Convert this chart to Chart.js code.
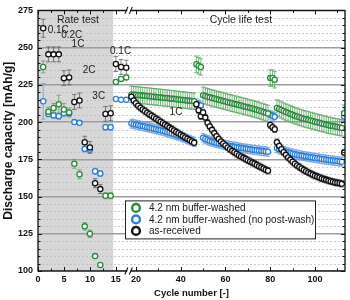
<!DOCTYPE html>
<html><head><meta charset="utf-8">
<script src="https://cdn.jsdelivr.net/npm/chart.js@4.4.1/dist/chart.umd.min.js"></script>
<style>html,body{margin:0;padding:0;background:#fff}</style>
</head><body>
<canvas id="c" width="350" height="300" style="width:350px;height:300px;display:block"></canvas>
<script>
// ---------- DATA ----------
const rateCycles = [1,2,3,4,5,6,7,8,9,10,11,12,13,14,15,16,17];
const lifeCycles = [];
for (let c = 18; c <= 113; c++) lifeCycles.push(c);

const greenRate = [237,207,209.5,212,208.5,206.5,172,165,130,125,110,104,150.5,150.5,227,229,230];
const blueRate  = [214,205.5,204.5,204,206,206,200,199.5,182,181.5,167,165.5,196.5,196.5,215.5,215,215];
const blackRate = [263,245.5,245.5,245.5,229.5,230,213.5,214.5,186.5,183,159,155,205.5,206,239,237,236.5];
const greenRateErr = [4,3,3,6,4,3,3,3,2.5,2.5,1,1,2,2,1.5,1.5,1.5];
const blueRateErr  = [12,2,2,2,2,2,1.5,1.5,2,2,2,2,2,2,1,1,1];
const blackRateErr = [6,5,5,5,5,5,5,5,4,4,3,3,5,5,5,5,5];

const greenLife = [
  218.6,218.4,218.3,218.1,218.0,217.8,217.7,217.5,217.4,217.2,217.0,216.9,216.7,216.6,216.4,216.2,216.1,215.9,215.7,215.6,215.4,215.2,215.0,214.9,214.7,214.5,214.3,214.2,214.0,
  238.8,237.8,237.0,
  218.0,217.5,217.0,216.6,216.2,215.8,215.4,215.0,214.6,214.2,213.8,213.4,213.0,212.6,212.2,211.9,211.5,211.1,210.7,210.3,209.9,209.5,209.1,208.7,208.3,207.8,207.3,206.8,206.3,205.8,
  229.6,229.6,228.4,
  209.5,208.8,208.1,207.4,206.7,206.1,205.5,204.9,204.3,203.8,203.3,202.8,202.3,201.9,201.5,201.1,200.7,200.3,199.9,199.5,199.1,198.7,198.3,197.9,197.6,197.3,197.0,196.7,196.4,196.1,
  206.0
];
const blueLife = [
  199.0,198.6,198.3,198.0,197.6,197.3,197.0,196.6,196.3,195.9,195.6,195.2,194.8,194.5,194.1,193.7,193.2,192.8,192.3,191.8,191.3,190.8,190.3,189.7,189.2,188.6,188.0,187.4,186.8,
  212.5,211.8,211.2,
  189.5,188.7,188.0,187.4,186.9,186.4,186.0,185.6,185.3,185.0,184.6,184.3,184.0,183.7,183.5,183.2,182.9,182.7,182.4,182.2,181.9,181.7,181.5,181.3,181.1,180.9,180.7,180.5,180.3,180.1,
  205.0,204.2,203.5,
  182.5,181.8,181.2,180.6,180.1,179.6,179.2,178.8,178.4,178.1,177.8,177.5,177.2,176.9,176.7,176.4,176.2,175.9,175.7,175.5,175.2,175.0,174.8,174.6,174.4,174.2,174.0,173.8,173.6,173.4,
  203.7
];
const blackLife = [
  217.0,214.5,212.6,211.0,209.7,208.5,207.4,206.3,205.3,204.3,203.3,202.3,201.3,200.3,199.3,198.3,197.3,196.3,195.3,194.4,193.4,192.5,191.5,190.6,189.7,188.8,187.9,187.0,186.1,
  212.0,208.0,204.0,
  206.5,203.0,199.5,197.0,194.8,192.6,190.5,188.6,187.0,185.6,184.3,183.0,181.8,180.7,179.7,178.7,177.8,176.9,176.0,175.2,174.4,173.6,172.8,172.0,171.2,170.4,169.6,168.8,168.0,167.3,
  198.0,196.5,195.2,
  186.5,184.0,181.8,179.8,178.0,176.3,174.8,173.4,172.1,170.9,169.8,168.8,167.9,167.0,166.2,165.4,164.7,164.0,163.4,162.8,162.2,161.7,161.2,160.7,160.3,159.9,159.5,159.2,158.9,158.6,
  179.5
];
const greenLifeErr = 5.5;
const blueLifeErr = 3;
const blackLifeErr = 2.2;

const seriesLabels = ['4.2 nm buffer-washed', '4.2 nm buffer-washed (no post-wash)', 'as-received'];
const xTickValues = [0,5,10,15,20,40,60,80,100];
const rateZone = [0, 14.5];

// ---------- BROKEN X SCALE ----------
const BRK = { leftMax: 17.7, rightMin: 17.3, frac: 0.2993 };
class BrokenScale extends Chart.LinearScale {
  _frac(v) {
    if (v <= BRK.leftMax) return (v - this.min) / (BRK.leftMax - this.min) * BRK.frac;
    return BRK.frac + (v - BRK.rightMin) / (this.max - BRK.rightMin) * (1 - BRK.frac);
  }
  buildTicks() { return xTickValues.map(v => ({ value: v })); }
  getPixelForValue(v) { return this.getPixelForDecimal(this._frac(v)); }
  getValueForPixel(p) {
    const d = this.getDecimalForPixel(p);
    if (d <= BRK.frac) return this.min + d / BRK.frac * (BRK.leftMax - this.min);
    return BRK.rightMin + (d - BRK.frac) / (1 - BRK.frac) * (this.max - BRK.rightMin);
  }
}
BrokenScale.id = 'broken';
BrokenScale.defaults = Chart.LinearScale.defaults;
Chart.register(BrokenScale);

// ---------- DATASETS ----------
function pts(cyc, vals) { return cyc.map((c, i) => ({ x: c, y: vals[i] })); }
function mk(label, color, errColor, rate, life, rErr, lErr, order) {
  return {
    label, order,
    data: pts(rateCycles, rate).concat(pts(lifeCycles, life)),
    errs: rErr.concat(lifeCycles.map(() => lErr)),
    errColor,
    borderColor: color, backgroundColor: '#fff',
    pointBackgroundColor: '#fff', pointBorderColor: color,
    pointRadius: 2.6, pointBorderWidth: 1.3, pointHoverRadius: 2.6,
    showLine: false
  };
}
const datasets = [
  mk(seriesLabels[0], '#2a8a3c', 'rgba(90,170,95,0.9)', greenRate, greenLife, greenRateErr, greenLifeErr, 1),
  mk(seriesLabels[1], '#2c7fd8', 'rgba(110,160,225,0.9)', blueRate, blueLife, blueRateErr, blueLifeErr, 2),
  mk(seriesLabels[2], '#111111', 'rgba(90,90,90,0.85)', blackRate, blackLife, blackRateErr, blackLifeErr, 0)
];

const FONT = 'Liberation Sans, Arial, Helvetica, sans-serif';

const decor = {
  id: 'decor',
  beforeDraw(chart) {
    const { ctx, chartArea: a, scales: { x } } = chart;
    ctx.save();
    ctx.fillStyle = '#d7d7d7';
    const x0 = x.getPixelForValue(rateZone[0]), x1 = x.getPixelForValue(rateZone[1]);
    ctx.fillRect(x0, a.top, x1 - x0, a.bottom - a.top);
    ctx.restore();
  },
  beforeDatasetsDraw(chart) {
    const { ctx, chartArea: a, scales: { x, y } } = chart;
    ctx.save();
    ctx.beginPath(); ctx.rect(a.left, a.top, a.right - a.left, a.bottom - a.top); ctx.clip();
    ctx.strokeStyle = '#bdbdbd'; ctx.lineWidth = 0.8; ctx.setLineDash([2, 2]);
    for (let v = 105; v < 275; v += 5) {
      if (v % 25 === 0) continue;
      const py = Math.round(y.getPixelForValue(v)) + 0.5;
      ctx.beginPath(); ctx.moveTo(a.left, py); ctx.lineTo(a.right, py); ctx.stroke();
    }
    ctx.setLineDash([]);
    const cap = 2.3;
    chart.data.datasets.slice().reverse().forEach(ds => {
      ctx.strokeStyle = ds.errColor; ctx.lineWidth = 0.9;
      ds.data.forEach((p, i) => {
        const e = ds.errs[i]; if (!e) return;
        const px = x.getPixelForValue(p.x), y1 = y.getPixelForValue(p.y - e), y2 = y.getPixelForValue(p.y + e);
        ctx.beginPath();
        ctx.moveTo(px, y1); ctx.lineTo(px, y2);
        ctx.moveTo(px - cap, y1); ctx.lineTo(px + cap, y1);
        ctx.moveTo(px - cap, y2); ctx.lineTo(px + cap, y2);
        ctx.stroke();
      });
    });
    ctx.restore();
  },
  afterDraw(chart) {
    const { ctx, chartArea: a, scales: { x, y } } = chart;
    ctx.save();
    ctx.strokeStyle = '#111'; ctx.lineWidth = 1;
    const xMin = [2.5,7.5,12.5,30,50,70,90,110];
    const tickX = (v, len) => {
      const px = Math.round(x.getPixelForValue(v)) + 0.5;
      ctx.beginPath(); ctx.moveTo(px, a.bottom); ctx.lineTo(px, a.bottom - len);
      ctx.moveTo(px, a.top); ctx.lineTo(px, a.top + len); ctx.stroke();
    };
    xTickValues.forEach(v => tickX(v, 4)); xMin.forEach(v => tickX(v, 2.5));
    for (let v = 100; v <= 275; v += 5) {
      const len = v % 25 === 0 ? 4 : 2.5;
      const py = Math.round(y.getPixelForValue(v)) + 0.5;
      ctx.beginPath(); ctx.moveTo(a.left, py); ctx.lineTo(a.left + len, py);
      ctx.moveTo(a.right, py); ctx.lineTo(a.right - len, py); ctx.stroke();
    }
    ctx.lineWidth = 1.3; ctx.strokeStyle = '#111';
    ctx.strokeRect(a.left, a.top, a.right - a.left, a.bottom - a.top);
    const bx = x.getPixelForValue(17.5);
    [a.top, a.bottom].forEach(by => {
      ctx.fillStyle = '#fff';
      ctx.fillRect(bx - 1.5, by - 1.5, 3, 3);
      ctx.lineWidth = 1.1; ctx.strokeStyle = '#111';
      ctx.beginPath();
      ctx.moveTo(bx - 4, by + 3.5); ctx.lineTo(bx - 1, by - 3.5);
      ctx.moveTo(bx + 0.5, by + 3.5); ctx.lineTo(bx + 3.5, by - 3.5);
      ctx.stroke();
    });
    ctx.fillStyle = '#1a1a1a';
    ctx.font = '10px ' + FONT; ctx.textAlign = 'center'; ctx.textBaseline = 'middle';
    const note = (t, cx, cy) => ctx.fillText(t, x.getPixelForValue(cx), y.getPixelForValue(cy));
    ctx.font = '10.5px ' + FONT;
    note('Rate test', 7.7, 268.4);
    note('Cycle life test', 66.9, 268.4);
    ctx.font = '10px ' + FONT;
    note('0.1C', 3.9, 262);
    note('0.2C', 6.5, 258.1);
    note('1C', 7.7, 252);
    note('2C', 9.85, 234.8);
    note('3C', 11.7, 217.3);
    note('0.1C', 15.9, 247.6);
    note('1C', 37.9, 206.5);
    const lx = a.left + 87, ly = a.top + 190, lw = 190, lh = 38;
    ctx.fillStyle = '#fff'; ctx.fillRect(lx, ly, lw, lh);
    ctx.lineWidth = 1; ctx.strokeStyle = '#222'; ctx.strokeRect(lx + 0.5, ly + 0.5, lw, lh);
    ctx.font = '10px ' + FONT; ctx.textAlign = 'left';
    chart.data.datasets.forEach((ds, i) => {
      const cy = ly + 7.5 + i * 11.5;
      ctx.beginPath(); ctx.arc(lx + 11, cy, 3.9, 0, Math.PI * 2);
      ctx.fillStyle = '#fff'; ctx.fill();
      ctx.lineWidth = 2.4; ctx.strokeStyle = ds.pointBorderColor; ctx.stroke();
      ctx.fillStyle = '#1a1a1a'; ctx.fillText(ds.label, lx + 24, cy + 0.5);
    });
    ctx.restore();
  }
};

new Chart(document.getElementById('c'), {
  type: 'scatter',
  data: { datasets },
  options: {
    responsive: false, animation: false, devicePixelRatio: 1,
    layout: { padding: { top: 5, right: 5, left: 0, bottom: 0 } },
    plugins: { legend: { display: false }, tooltip: { enabled: false } },
    elements: { point: { pointStyle: 'circle' } },
    scales: {
      x: {
        type: 'broken', min: 0, max: 113.4,
        afterFit: s => { s.height = 29; },
        grid: { display: false, drawTicks: false },
        border: { display: false },
        ticks: { padding: 3, autoSkip: false, maxRotation: 0, color: '#111',
          font: { family: FONT, size: 9, weight: 'bold' }, callback: v => String(v) },
        title: { display: true, text: 'Cycle number [-]', color: '#111',
          font: { family: FONT, size: 9.5, weight: 'bold' }, padding: { top: 0, bottom: 1 } }
      },
      y: {
        min: 100, max: 275,
        afterFit: s => { s.width = 38; },
        grid: { color: '#9e9e9e', lineWidth: 1.4, drawTicks: false },
        border: { display: false },
        ticks: { stepSize: 25, padding: 5, color: '#111',
          font: { family: FONT, size: 9, weight: 'bold' } },
        title: { display: true, text: 'Discharge capacity [mAh/g]', color: '#111',
          font: { family: FONT, size: 12, weight: 'bold' }, padding: { top: 1, bottom: 0 } }
      }
    }
  },
  plugins: [decor]
});
</script>
</body></html>
